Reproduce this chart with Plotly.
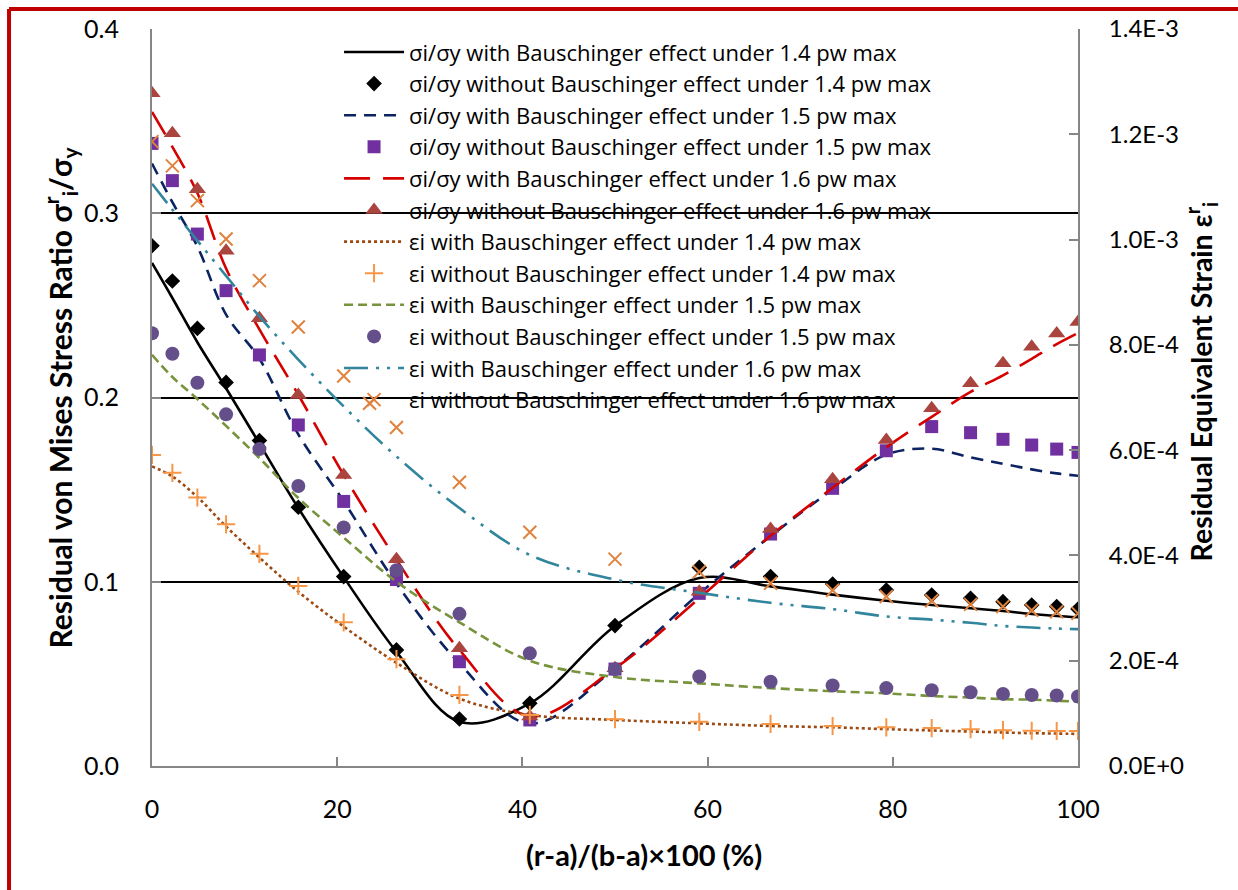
import plotly.graph_objects as go

# ---------------- data ----------------
x_pts = [0, 2.2, 4.9, 8.0, 11.6, 15.8, 20.7, 26.4, 33.2, 40.8, 50.0, 59.1,
         66.8, 73.5, 79.3, 84.2, 88.4, 91.9, 95.0, 97.7, 100.0]
x_pts_e16 = [0, 2.2, 4.9, 8.0, 11.6, 15.8, 20.7, 23.5, 26.4, 33.2, 40.8, 50.0,
             59.1, 66.8, 73.5, 79.3, 84.2, 88.4, 91.9, 95.0, 97.7, 100.0]

# stress ratio (left axis)
s14_with = [0.273, 0.254, 0.230, 0.205, 0.175, 0.140, 0.1025, 0.062, 0.024, 0.034, 0.076,
            0.102, 0.0975, 0.093, 0.0897, 0.0874, 0.0856, 0.0841, 0.0825, 0.0814, 0.0807]
s14_without = [0.2824, 0.2632, 0.2375, 0.2082, 0.1766, 0.1404, 0.1028, 0.063, 0.0255, 0.034, 0.0762,
               0.1078, 0.1028, 0.0988, 0.0955, 0.0928, 0.091, 0.0892, 0.0874, 0.0865, 0.0852]
s15_with = [0.327, 0.306, 0.282, 0.245, 0.221, 0.180, 0.1437, 0.099, 0.0557, 0.023, 0.053,
            0.0935, 0.1248, 0.150, 0.169, 0.1722, 0.1675, 0.164, 0.161, 0.1588, 0.1575]
s15_without = [0.3379, 0.3177, 0.2887, 0.258, 0.2231, 0.1851, 0.1436, 0.1012, 0.0566, 0.025, 0.0526,
               0.0937, 0.1259, 0.1507, 0.1711, 0.1842, 0.1809, 0.1773, 0.1742, 0.172, 0.1702]
s16_with = [0.355, 0.336, 0.311, 0.270, 0.237, 0.2015, 0.158, 0.112, 0.063, 0.027, 0.053,
            0.091, 0.125, 0.151, 0.173, 0.1895, 0.203, 0.212, 0.221, 0.229, 0.235]
s16_without = [0.3651, 0.3434, 0.313, 0.2797, 0.243, 0.2014, 0.1579, 0.1122, 0.0639, 0.0268, 0.053,
               0.0946, 0.1286, 0.1556, 0.1769, 0.1941, 0.2077, 0.2186, 0.2276, 0.2348, 0.241]

# equivalent strain (right axis)
e14_with = [5.69e-4, 5.50e-4, 5.11e-4, 4.55e-4, 3.96e-4, 3.31e-4, 2.65e-4, 1.96e-4, 1.28e-4, 0.97e-4,
            0.875e-4, 0.81e-4, 0.76e-4, 0.735e-4, 0.70e-4, 0.675e-4, 0.655e-4, 0.637e-4, 0.623e-4,
            0.616e-4, 0.609e-4]
e14_without = [5.91e-4, 5.57e-4, 5.10e-4, 4.59e-4, 4.03e-4, 3.42e-4, 2.73e-4, 2.03e-4, 1.35e-4, 0.97e-4,
               0.89e-4, 0.84e-4, 0.80e-4, 0.76e-4, 0.735e-4, 0.72e-4, 0.70e-4, 0.68e-4, 0.67e-4,
               0.665e-4, 0.665e-4]
e15_with = [7.81e-4, 7.39e-4, 6.97e-4, 6.46e-4, 5.85e-4, 5.09e-4, 4.34e-4, 3.50e-4, 2.73e-4, 2.00e-4,
            1.69e-4, 1.57e-4, 1.48e-4, 1.42e-4, 1.38e-4, 1.33e-4, 1.30e-4, 1.27e-4, 1.26e-4, 1.24e-4,
            1.22e-4]
e15_without = [8.22e-4, 7.83e-4, 7.28e-4, 6.68e-4, 6.02e-4, 5.32e-4, 4.53e-4, 3.72e-4, 2.89e-4, 2.14e-4,
               1.84e-4, 1.70e-4, 1.60e-4, 1.53e-4, 1.48e-4, 1.44e-4, 1.40e-4, 1.37e-4, 1.35e-4, 1.34e-4,
               1.32e-4]
e16_with = [11.06e-4, 10.57e-4, 9.98e-4, 9.31e-4, 8.54e-4, 7.72e-4, 6.83e-4, 5.88e-4, 4.90e-4, 4.01e-4,
            3.54e-4, 3.29e-4, 3.10e-4, 2.98e-4, 2.84e-4, 2.78e-4, 2.72e-4, 2.66e-4, 2.63e-4, 2.61e-4,
            2.60e-4]
e16_without = [11.86e-4, 11.40e-4, 10.74e-4, 10.01e-4, 9.22e-4, 8.34e-4, 7.41e-4, 6.89e-4, 6.43e-4,
               5.39e-4, 4.44e-4, 3.93e-4, 3.69e-4, 3.47e-4, 3.34e-4, 3.22e-4, 3.14e-4, 3.07e-4,
               3.03e-4, 2.96e-4, 2.93e-4, 2.90e-4]

x_ticks = [0, 20, 40, 60, 80, 100]
y_ticks = [0.0, 0.1, 0.2, 0.3, 0.4]
y2_ticks = [0, 2e-4, 4e-4, 6e-4, 8e-4, 10e-4, 12e-4, 14e-4]
y2_ticktext = ["0.0E+0", "2.0E-4", "4.0E-4", "6.0E-4", "8.0E-4", "1.0E-3", "1.2E-3", "1.4E-3"]

names = [
    "σi/σy with Bauschinger effect under 1.4 pw max",
    "σi/σy without Bauschinger effect under 1.4 pw max",
    "σi/σy with Bauschinger effect under 1.5 pw max",
    "σi/σy without Bauschinger effect under 1.5 pw max",
    "σi/σy with Bauschinger effect under 1.6 pw max",
    "σi/σy without Bauschinger effect under 1.6 pw max",
    "εi with Bauschinger effect under 1.4 pw max",
    "εi without Bauschinger effect under 1.4 pw max",
    "εi with Bauschinger effect under 1.5 pw max",
    "εi without Bauschinger effect under 1.5 pw max",
    "εi with Bauschinger effect under 1.6 pw max",
    "εi without Bauschinger effect under 1.6 pw max",
]

FONT = "Lato, 'Open Sans', sans-serif"
LEGEND_FONT = "'Open Sans', Lato, sans-serif"

fig = go.Figure()

def line(x, y, name, color, dash, yaxis="y", width=2.6):
    fig.add_trace(go.Scatter(x=x, y=y, name=name, mode="lines", yaxis=yaxis,
                             line=dict(color=color, width=width, dash=dash,
                                       shape="spline", smoothing=1)))

def mark(x, y, name, color, symbol, size, yaxis="y", lw=0, lc=None):
    fig.add_trace(go.Scatter(x=x, y=y, name=name, mode="markers", yaxis=yaxis,
                             marker=dict(color=color, symbol=symbol, size=size,
                                         line=dict(width=lw, color=lc or color))))

line(x_pts, s14_with, names[0], "#000000", "solid")
mark(x_pts, s14_without, names[1], "#000000", "diamond", 12)
line(x_pts, s15_with, names[2], "#0B2461", "12px,8px")
mark(x_pts, s15_without, names[3], "#7030A0", "square", 13)
line(x_pts, s16_with, names[4], "#D50000", "26px,13px")
mark(x_pts, s16_without, names[5], "#A9443F", "triangle-up", 15)
line(x_pts, e14_with, names[6], "#9C4A12", "dot", "y2")
mark(x_pts, e14_without, names[7], "#F79646", "cross-thin", 13, "y2", 2, "#F79646")
line(x_pts, e15_with, names[8], "#77933C", "9px,5px", "y2")
mark(x_pts, e15_without, names[9], "#654F8A", "circle", 14, "y2")
line(x_pts, e16_with, names[10], "#31859C", "24px,8px,3px,8px,3px,8px", "y2")
mark(x_pts_e16, e16_without, names[11], "#E0823D", "x-thin", 13, "y2", 2, "#E0823D")

axis_gray = "#868686"

fig.update_layout(
    width=1238, height=890,
    margin=dict(l=152, r=160, t=29, b=124),
    paper_bgcolor="white", plot_bgcolor="white",
    font=dict(family=FONT, size=24, color="black"),
    showlegend=True,
    legend=dict(x=0.202, y=0.997, xanchor="left", yanchor="top",
                bgcolor="rgba(0,0,0,0)", font=dict(family=LEGEND_FONT, size=22, color="black"),
                itemwidth=60, tracegroupgap=0),
    xaxis=dict(range=[0, 100], tickvals=x_ticks, showgrid=False, zeroline=False,
               showline=True, linecolor=axis_gray, linewidth=2,
               ticks="inside", ticklen=9, tickcolor=axis_gray, tickwidth=2,
               ticklabelstandoff=20, tickfont=dict(size=25)),
    yaxis=dict(range=[0, 0.4], tickvals=y_ticks, tickformat=".1f",
               showgrid=True, gridcolor="#000000", gridwidth=1.5, zeroline=False,
               showline=True, linecolor=axis_gray, linewidth=2,
               ticks="inside", ticklen=9, tickcolor=axis_gray, tickwidth=2,
               ticklabelstandoff=26, tickfont=dict(size=25)),
    yaxis2=dict(range=[0, 1.4e-3], tickvals=y2_ticks, ticktext=y2_ticktext,
                overlaying="y", side="right", showgrid=False, zeroline=False,
                showline=True, linecolor=axis_gray, linewidth=2,
                ticks="inside", ticklen=9, tickcolor=axis_gray, tickwidth=2,
                ticklabelstandoff=24, tickfont=dict(size=24)),
    annotations=[
        dict(text="<b>Residual von Mises Stress Ratio σ<sup>r</sup><sub>i</sub>/σ<sub>y</sub></b>",
             xref="paper", yref="paper", x=-0.0994, y=0.5, textangle=-90,
             showarrow=False, xanchor="center", yanchor="middle",
             font=dict(family=FONT, size=30, color="black")),
        dict(text="<b>Residual Equivalent Strain ε<sup>r</sup><sub>i</sub></b>",
             xref="paper", yref="paper", x=1.133, y=0.522, textangle=-90,
             showarrow=False, xanchor="center", yanchor="middle",
             font=dict(family=FONT, size=28.5, color="black")),
        dict(text="<b>(r-a)/(b-a)×100 (%)</b>",
             xref="paper", yref="paper", x=0.531, y=-0.12,
             showarrow=False, xanchor="center", yanchor="middle",
             font=dict(family=FONT, size=29, color="black")),
    ],
    shapes=[
        dict(type="line", xref="paper", yref="paper", x0=-0.1544, x1=-0.1544, y0=-0.2, y1=1.0271,
             line=dict(color="#C00000", width=4)),
        dict(type="line", xref="paper", yref="paper", x0=-0.1544, x1=1.2, y0=1.0271, y1=1.0271,
             line=dict(color="#C00000", width=4)),
    ],
)

fig.write_html("out.html")
